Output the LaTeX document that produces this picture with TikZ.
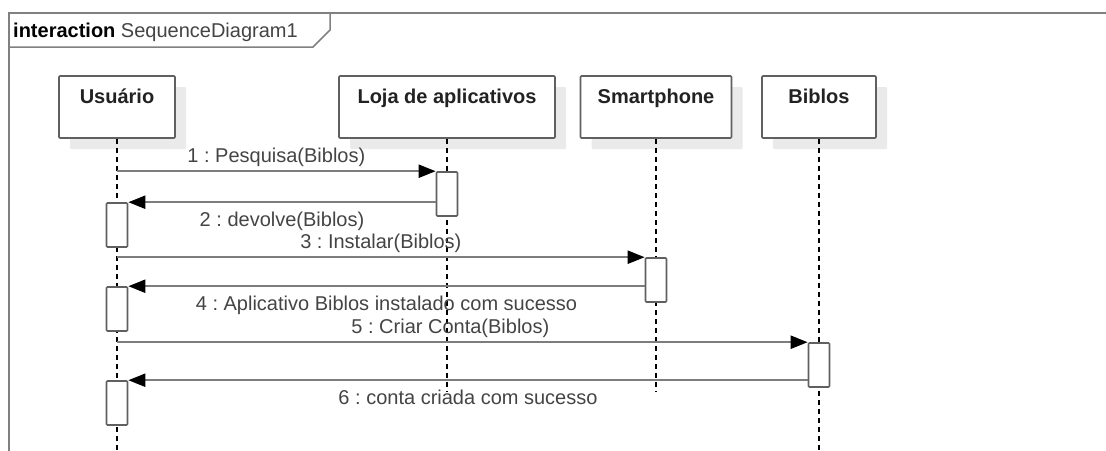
\documentclass[tikz,border=0pt]{standalone}
\usepackage{fontspec}
\setmainfont{Liberation Sans}
\usepackage{tikz}
\usetikzlibrary{arrows.meta,shapes,positioning,shadows}
\frenchspacing
\definecolor{sqframe}{RGB}{128,128,128}
\definecolor{sqborder}{RGB}{96,96,96}
\definecolor{sqline}{RGB}{125,125,125}
\definecolor{sqtext}{RGB}{68,68,68}
\definecolor{sqtitle}{RGB}{34,34,34}
\definecolor{sqshadow}{RGB}{234,234,234}
\tikzstyle{lifehead} = [rectangle, minimum height=62pt, draw=sqborder, fill=white, line width=1.6pt, rounded corners=1pt, drop shadow={shadow xshift=11pt, shadow yshift=-11pt, fill=sqshadow, opacity=1, draw=none}]
\tikzstyle{headtext} = [font=\fontsize{20}{24}\selectfont\bfseries, text=sqtitle, anchor=base, inner sep=0]
\tikzstyle{lifeline} = [line width=1.6pt, dash pattern=on 5pt off 4pt]
\tikzstyle{activation} = [rectangle, minimum width=21pt, minimum height=44pt, draw=sqborder, fill=white, line width=1.6pt, rounded corners=1pt]
\tikzstyle{msg} = [line width=2pt, color=sqline, -{Triangle[length=17pt,width=13pt,color=black]}]
\tikzstyle{msglabel} = [font=\fontsize{20}{24}\selectfont, text=sqtext, inner sep=0, text height=15pt, text depth=4pt]

\begin{document}
\begin{tikzpicture}[x=1pt, y=-1pt]
\useasboundingbox (0,0) rectangle (1106,450);
\clip (0,0) rectangle (1106,450);

% Frame
\draw[sqframe, line width=1.5pt] (9,13) rectangle (1130,470);
\draw[sqframe, line width=1.5pt] (9,47) -- (313,47) -- (330,30) -- (330,13);
\node[anchor=base west, inner sep=0, font=\fontsize{20}{24}\selectfont, text=sqtext] (frametitle) at (13,37) {\textbf{\color{black}interaction} SequenceDiagram1};

% Lifeline heads
\node[lifehead, minimum width=116pt] (usr) at (117,107) {};
\node[lifehead, minimum width=216pt] (loja) at (447,107) {};
\node[lifehead, minimum width=151pt] (smart) at (656,107) {};
\node[lifehead, minimum width=114pt] (biblos) at (819,107) {};
\node[headtext] (usrtxt) at ([yshift=-28pt]usr.north) {Usuário};
\node[headtext] (lojatxt) at ([yshift=-28pt]loja.north) {Loja de aplicativos};
\node[headtext] (smarttxt) at ([yshift=-28pt]smart.north) {Smartphone};
\node[headtext] (biblostxt) at ([yshift=-28pt]biblos.north) {Biblos};

% Lifelines
\coordinate (usrend) at (117,450);
\coordinate (lojaend) at (447,392);
\coordinate (smartend) at (656,392);
\coordinate (biblosend) at (819,450);
\draw[lifeline] (usr.south) -- (usrend);
\draw[lifeline] (loja.south) -- (lojaend);
\draw[lifeline] (smart.south) -- (smartend);
\draw[lifeline] (biblos.south) -- (biblosend);

% Activations
\node[activation] (loja1) at (447,194) {};
\node[activation] (usr1) at (117,225) {};
\node[activation] (smart1) at (656,280) {};
\node[activation] (usr2) at (117,309) {};
\node[activation] (biblos1) at (819,365) {};
\node[activation] (usr3) at (117,403) {};

% Messages
\draw[msg] (usr.south |- loja1.north west) -- (loja1.north west) node[msglabel, midway, above=4pt] {1 : Pesquisa(Biblos)};
\draw[msg] (loja1.west |- usr1.north east) -- (usr1.north east) node[msglabel, midway, below=8pt] {2 : devolve(Biblos)};
\draw[msg] (usr.south |- smart1.north west) -- (smart1.north west) node[msglabel, midway, above=4pt] {3 : Instalar(Biblos)};
\draw[msg] (smart1.west |- usr2.north east) -- (usr2.north east) node[msglabel, midway, below=8pt] {4 : Aplicativo Biblos instalado com sucesso};
\draw[msg] (usr.south |- biblos1.north west) -- (biblos1.north west) node[msglabel, midway, above=4pt, xshift=-12pt] {5 : Criar Conta(Biblos)};
\draw[msg] (biblos1.west |- usr3.north east) -- (usr3.north east) node[msglabel, midway, below=8pt] {6 : conta criada com sucesso};
\end{tikzpicture}
\end{document}
